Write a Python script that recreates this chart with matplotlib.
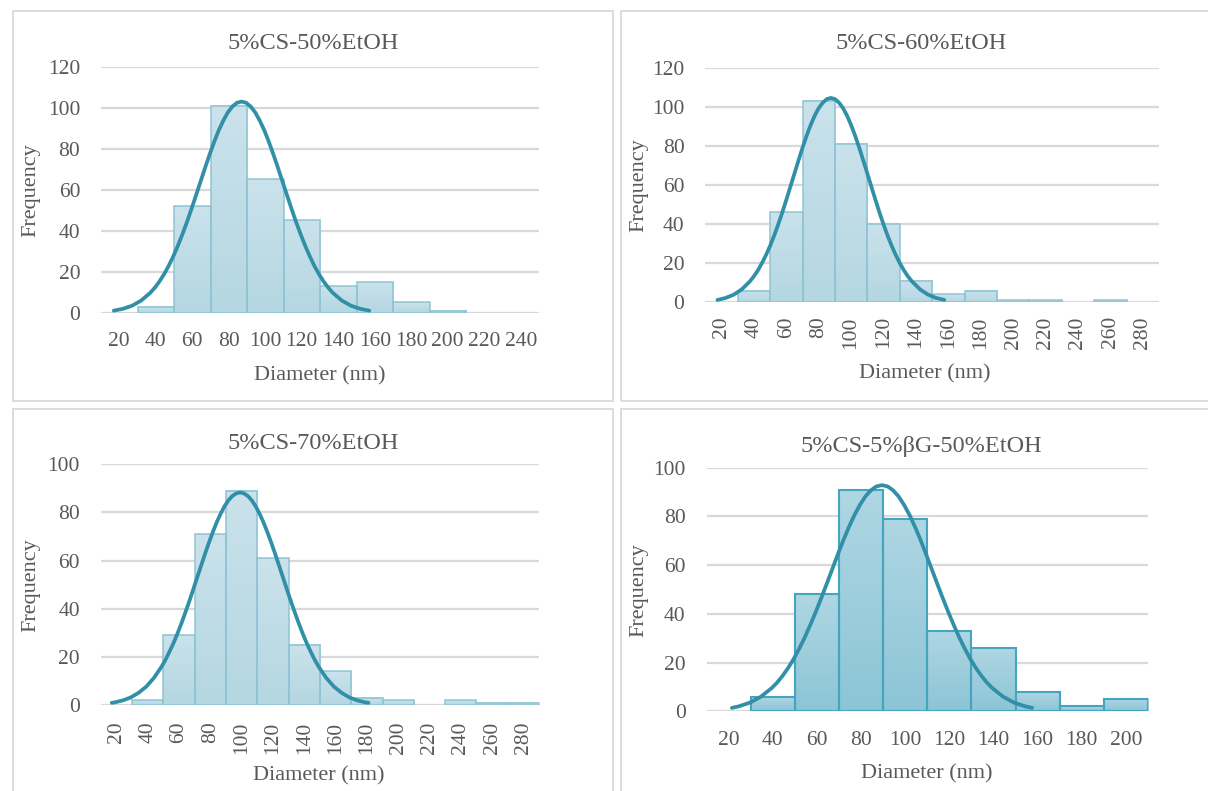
import matplotlib
matplotlib.use('Agg')
import matplotlib.pyplot as plt
import numpy as np
from matplotlib.colors import LinearSegmentedColormap
from matplotlib.patches import Rectangle

plt.rcParams['font.family'] = ['Liberation Serif', 'DejaVu Serif']

# --- 5%CS-50%EtOH ---
cats_50 = [20, 40, 60, 80, 100, 120, 140, 160, 180, 200, 220, 240]
bins_50 = [40, 60, 80, 100, 120, 140, 160, 180, 200, 220, 240]
freq_50 = [3, 52, 101, 65, 45, 13, 15, 5, 1, 0, 0]
fit_x_50 = [17, 22, 27, 32, 37, 39.5, 42, 44.5, 47, 49.5, 52, 54.5, 57, 59.5, 62,
            64.5, 67, 69.5, 72, 74.5, 77, 79.5, 82, 84.5, 87, 89.5, 92, 94.5, 97,
            99.5, 102, 104.5, 107, 109.5, 112, 114.5, 117, 119.5, 122, 124.5, 127,
            129.5, 132, 134.5, 137, 142, 147, 152, 157]
fit_y_50 = [1.0, 1.9, 3.4, 5.9, 9.7, 12.2, 15.2, 18.7, 22.7, 27.3, 32.4, 38.0, 44.0,
            50.4, 57.1, 63.8, 70.6, 77.1, 83.3, 88.9, 93.7, 97.7, 100.6, 102.4, 103.0,
            102.4, 100.6, 97.7, 93.7, 88.9, 83.3, 77.1, 70.6, 63.8, 57.1, 50.4, 44.0,
            38.0, 32.4, 27.3, 22.7, 18.7, 15.2, 12.2, 9.7, 5.9, 3.4, 1.9, 1.0]

# --- 5%CS-60%EtOH ---
cats_60 = [20, 40, 60, 80, 100, 120, 140, 160, 180, 200, 220, 240, 260, 280]
bins_60 = [40, 60, 80, 100, 120, 140, 160, 180, 200, 220, 240, 260, 280]
freq_60 = [6, 46, 103, 81, 40, 11, 4, 6, 1, 1, 0, 1, 0]
fit_x_60 = [17.5, 22.5, 27.5, 32.5, 37.5, 40, 42.5, 45, 47.5, 50, 52.5, 55, 57.5,
            60, 62.5, 65, 67.5, 70, 72.5, 75, 77.5, 80, 82.5, 85, 87.5, 90, 92.5, 95,
            97.5, 100, 102.5, 105, 107.5, 110, 112.5, 115, 117.5, 120, 122.5, 125,
            127.5, 130, 132.5, 135, 137.5, 142.5, 147.5, 152.5, 157.5]
fit_y_60 = [1.2, 2.2, 3.9, 6.6, 10.7, 13.3, 16.4, 20.1, 24.2, 28.9, 34.1, 39.8, 45.9,
            52.4, 59.1, 65.8, 72.5, 79.0, 85.1, 90.6, 95.4, 99.3, 102.1, 103.9, 104.5,
            103.9, 102.1, 99.3, 95.4, 90.6, 85.1, 79.0, 72.5, 65.8, 59.1, 52.4, 45.9,
            39.8, 34.1, 28.9, 24.2, 20.1, 16.4, 13.3, 10.7, 6.6, 3.9, 2.2, 1.2]

# --- 5%CS-70%EtOH ---
cats_70 = [20, 40, 60, 80, 100, 120, 140, 160, 180, 200, 220, 240, 260, 280]
bins_70 = [40, 60, 80, 100, 120, 140, 160, 180, 200, 220, 240, 260, 280]
freq_70 = [2, 29, 71, 89, 61, 25, 14, 3, 2, 0, 2, 1, 1]
fit_x_70 = [17, 19, 24, 29, 34, 39, 44, 49, 51.5, 54, 56.5, 59, 61.5, 64, 66.5, 69,
            71.5, 74, 76.5, 79, 81.5, 84, 86.5, 89, 91.5, 94, 96.5, 99, 101.5, 104,
            106.5, 109, 111.5, 114, 116.5, 119, 121.5, 124, 126.5, 129, 131.5, 134,
            136.5, 139, 141.5, 144, 146.5, 149, 154, 159, 164, 169, 174, 179, 181]
fit_y_70 = [0.9, 1.1, 1.9, 3.1, 5.0, 7.6, 11.3, 16.1, 19.0, 22.3, 25.8, 29.7, 33.9,
            38.4, 43.0, 47.9, 52.8, 57.7, 62.6, 67.3, 71.7, 75.8, 79.4, 82.5, 85.0,
            86.8, 87.9, 88.3, 87.9, 86.8, 85.0, 82.5, 79.4, 75.8, 71.7, 67.3, 62.6,
            57.7, 52.8, 47.9, 43.0, 38.4, 33.9, 29.7, 25.8, 22.3, 19.0, 16.1, 11.3,
            7.6, 5.0, 3.1, 1.9, 1.1, 0.9]

# --- 5%CS-5%βG-50%EtOH ---
cats_bg = [20, 40, 60, 80, 100, 120, 140, 160, 180, 200]
bins_bg = [40, 60, 80, 100, 120, 140, 160, 180, 200]
freq_bg = [6, 48, 91, 79, 33, 26, 8, 2, 5]
fit_x_bg = [21.5, 24.5, 29.5, 34.5, 39.5, 42, 44.5, 47, 49.5, 52, 54.5, 57, 59.5,
            62, 64.5, 67, 69.5, 72, 74.5, 77, 79.5, 82, 84.5, 87, 89.5, 92, 94.5, 97,
            99.5, 102, 104.5, 107, 109.5, 112, 114.5, 117, 119.5, 122, 124.5, 127,
            129.5, 132, 134.5, 137, 139.5, 144.5, 149.5, 154.5, 157.5]
fit_y_bg = [1.4, 2.0, 3.5, 5.9, 9.5, 11.8, 14.6, 17.8, 21.5, 25.7, 30.3, 35.4, 40.8,
            46.5, 52.4, 58.4, 64.4, 70.2, 75.6, 80.5, 84.7, 88.2, 90.7, 92.3, 92.8,
            92.3, 90.7, 88.2, 84.7, 80.5, 75.6, 70.2, 64.4, 58.4, 52.4, 46.5, 40.8,
            35.4, 30.3, 25.7, 21.5, 17.8, 14.6, 11.8, 9.5, 5.9, 3.5, 2.0, 1.4]

W, H = 1208, 791
TEXT = '#595959'
GRID = '#d9d9d9'
LINE = '#3190a7'
BIN_W = 20


def px(x, y):
    return x / W, 1 - y / H


def add_axes_px(fig, x0, y0, x1, y1):
    return fig.add_axes([x0 / W, 1 - y1 / H, (x1 - x0) / W, (y1 - y0) / H])


def draw_panel(ax, cats, bins, freq, fx, fy, ymax, top, bottom, edge, edge_w,
               rot, xpad):
    # each bar gets its own vertical gradient, lighter at the top
    cmap = LinearSegmentedColormap.from_list('bar', [bottom, top])
    grad = np.linspace(0, 1, 64).reshape(-1, 1)
    for c, h in zip(bins, freq):
        if h == 0:
            continue
        ax.imshow(grad, extent=[c - BIN_W / 2, c + BIN_W / 2, 0, h], origin='lower',
                  aspect='auto', cmap=cmap, zorder=1)
        ax.bar(c, h, width=BIN_W, facecolor='none', edgecolor=edge,
               linewidth=edge_w, zorder=2)
    ax.plot(fx, fy, color=LINE, lw=2.7, solid_capstyle='round',
            solid_joinstyle='round', zorder=3)

    ax.set_xlim(cats[0] - BIN_W / 2, cats[-1] + BIN_W / 2)
    ax.set_ylim(0, ymax)
    ax.set_xticks(cats)
    if rot:
        ax.set_xticklabels([str(c) for c in cats], rotation=90, va='top', ha='center')
    else:
        ax.set_xticklabels([str(c) for c in cats])
    ax.set_yticks(np.arange(0, ymax + 1, 20))
    ax.yaxis.grid(True, color=GRID, lw=1.6)
    ax.set_axisbelow(True)
    for s in ax.spines.values():
        s.set_visible(False)
    ax.tick_params(axis='x', length=0, pad=xpad, labelsize=15.5, colors=TEXT)
    ax.tick_params(axis='y', length=0, pad=15, labelsize=15.5, colors=TEXT)


fig = plt.figure(figsize=(W / 100, H / 100), dpi=100)

# panel frames
for x0, y0, x1, y1 in [(12.5, 10.5, 612.5, 400.5), (621, 10.5, 1230, 400.5),
                       (12.5, 409, 612.5, 810), (621, 409, 1230, 810)]:
    fig.add_artist(Rectangle(px(x0, y1), (x1 - x0) / W, (y1 - y0) / H,
                             transform=fig.transFigure, fill=False,
                             edgecolor=GRID, lw=1.3))

light = ('#cae2eb', '#b4d7e2', '#8fc3d4', 1.1)
dark = ('#afd6e3', '#8cc5d6', '#45a5c0', 1.5)

ax1 = add_axes_px(fig, 101, 66.7, 539, 312.7)
draw_panel(ax1, cats_50, bins_50, freq_50, fit_x_50, fit_y_50, 120, *light,
           rot=False, xpad=14)
ax2 = add_axes_px(fig, 705.3, 67.6, 1159, 302.3)
draw_panel(ax2, cats_60, bins_60, freq_60, fit_x_60, fit_y_60, 120, *light,
           rot=True, xpad=10)
ax3 = add_axes_px(fig, 100.8, 464.3, 539, 705)
draw_panel(ax3, cats_70, bins_70, freq_70, fit_x_70, fit_y_70, 100, *light,
           rot=True, xpad=12)
ax4 = add_axes_px(fig, 706.5, 467.6, 1148, 711.3)
draw_panel(ax4, cats_bg, bins_bg, freq_bg, fit_x_bg, fit_y_bg, 100, *dark,
           rot=False, xpad=14)

titles = [('5%CS-50%EtOH', 313, 43.5), ('5%CS-60%EtOH', 921, 43.5),
          ('5%CS-70%EtOH', 313, 443.5), ('5%CS-5%βG-50%EtOH', 921, 446.5)]
for t, x, y in titles:
    fig.text(*px(x, y), t, ha='center', va='center', fontsize=17.5, color=TEXT)

xlabels = [(320, 376), (925, 374), (319, 776), (927, 774)]
for x, y in xlabels:
    fig.text(*px(x, y), 'Diameter (nm)', ha='center', va='center', fontsize=16,
             color=TEXT)

ylabels = [(30.5, 190), (638.5, 185), (30.5, 585), (638.5, 590)]
for x, y in ylabels:
    fig.text(*px(x, y), 'Frequency', ha='center', va='center', rotation=90,
             fontsize=16, color=TEXT)

fig.savefig('out.png', dpi=100)
